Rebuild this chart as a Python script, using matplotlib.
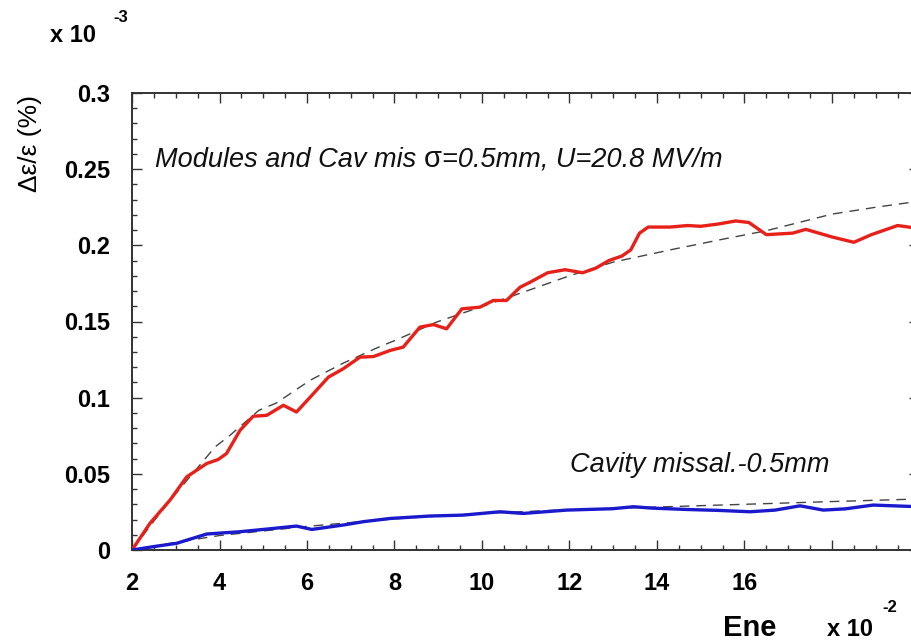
import numpy as np
import matplotlib
matplotlib.use("Agg")
import matplotlib.pyplot as plt
from matplotlib.ticker import MultipleLocator, FixedLocator, FixedFormatter

plt.rcParams["font.family"] = ["Liberation Sans", "DejaVu Sans"]

# energy (x 10^-2) and relative emittance growth (x 10^-3, %)
red_x = [2.0, 2.41, 2.87, 3.25, 3.71, 3.97, 4.16, 4.47, 4.77, 5.08, 5.46, 5.76,
         6.11, 6.49, 6.83, 7.21, 7.52, 7.90, 8.20, 8.58, 8.89, 9.19, 9.54, 9.95,
         10.26, 10.56, 10.87, 11.10, 11.5, 11.9, 12.3, 12.6, 12.9, 13.2, 13.4,
         13.6, 13.8, 14.3, 14.7, 15.0, 15.4, 15.8, 16.1, 16.5, 17.1, 17.4, 18.0,
         18.5, 18.9, 19.5, 20.0]
red_y = [0.0, 0.0175, 0.0328, 0.048, 0.0568, 0.0594, 0.0633, 0.0786, 0.0878,
         0.0884, 0.095, 0.0906, 0.1015, 0.1135, 0.119, 0.1266, 0.127, 0.131,
         0.1332, 0.1463, 0.148, 0.1452, 0.1583, 0.1594, 0.1638, 0.1638, 0.1725,
         0.1758, 0.182, 0.184, 0.182, 0.185, 0.19, 0.193, 0.197, 0.208, 0.212,
         0.212, 0.213, 0.2125, 0.214, 0.216, 0.215, 0.207, 0.208, 0.2105, 0.2055,
         0.202, 0.207, 0.213, 0.211]

red_fit_x = [2.0, 2.5, 3.0, 3.5, 3.9, 4.24, 4.9, 5.3, 6.07, 6.83, 7.67, 8.05,
             8.96, 9.73, 10.94, 12.0, 13.0, 14.4, 15.5, 16.5, 18.0, 19.0, 20.0]
red_fit_y = [0.0, 0.019, 0.037, 0.054, 0.0677, 0.0753, 0.0917, 0.0965, 0.1114,
             0.1227, 0.1336, 0.138, 0.1496, 0.1572, 0.1692, 0.180, 0.189, 0.1976,
             0.204, 0.2096, 0.2205, 0.225, 0.229]

blue_x = [2.0, 2.49, 3.02, 3.71, 4.47, 5.0, 5.76, 6.11, 6.83, 7.29, 7.9, 8.81,
          9.57, 10.41, 10.94, 11.94, 12.98, 13.46, 13.88, 14.68, 15.4, 16.13,
          16.7, 17.27, 17.8, 18.3, 18.94, 19.4, 20.0]
blue_y = [0.0, 0.0022, 0.0044, 0.0105, 0.012, 0.0135, 0.0157, 0.0135, 0.0164,
          0.0186, 0.0207, 0.0223, 0.0229, 0.0251, 0.024, 0.0262, 0.0271, 0.0284,
          0.0275, 0.0266, 0.026, 0.0251, 0.0262, 0.029, 0.0262, 0.027, 0.0295,
          0.029, 0.0284]

blue_fit_x = [2.0, 3.0, 4.0, 6.0, 8.0, 10.0, 12.0, 14.0, 16.0, 18.0, 20.0]
blue_fit_y = [0.0, 0.005, 0.0095, 0.0155, 0.0205, 0.024, 0.0265, 0.0282, 0.030,
              0.0318, 0.0335]

x_major = [2, 4, 6, 8, 10, 12, 14, 16, 18, 20]
x_labels = ["2", "4", "6", "8", "10", "12", "14", "16", "", ""]
y_major = [0, 0.05, 0.1, 0.15, 0.2, 0.25, 0.3]
y_labels = ["0", "0.05", "0.1", "0.15", "0.2", "0.25", "0.3"]

W, H = 912, 643
fig = plt.figure(figsize=(W / 100, H / 100), dpi=100)
# plot frame runs a little past the right edge of the canvas
ax = fig.add_axes([132 / W, 93 / H, 787.5 / W, 457 / H])

ax.plot(red_fit_x, red_fit_y, color="#444444", lw=1.0, ls=(0, (7, 5)), zorder=2)
ax.plot(blue_fit_x, blue_fit_y, color="#444444", lw=1.0, ls=(0, (7, 5)), zorder=2)
ax.plot(red_x, red_y, color="#e8201a", lw=2.4, zorder=3)
ax.plot(blue_x, blue_y, color="#1a1acc", lw=2.4, zorder=3)

ax.set_xlim(2, 20)
ax.set_ylim(0, 0.3)
ax.xaxis.set_major_locator(FixedLocator(x_major))
ax.xaxis.set_major_formatter(FixedFormatter(x_labels))
ax.xaxis.set_minor_locator(MultipleLocator(0.5))
ax.yaxis.set_major_locator(FixedLocator(y_major))
ax.yaxis.set_major_formatter(FixedFormatter(y_labels))
ax.yaxis.set_minor_locator(MultipleLocator(0.01))

for s in ax.spines.values():
    s.set_color("#333333"); s.set_linewidth(1.4)
ax.tick_params(which="both", direction="in", top=True, right=True,
               color="#333333", width=1.0)
ax.tick_params(which="major", length=7.5, labelsize=17, pad=16)
ax.tick_params(which="minor", length=3.8)
for lab in ax.get_xticklabels() + ax.get_yticklabels():
    lab.set_fontweight("bold")

# axis titles and exponent markers
fig.text(30 / W, 1 - 144 / H, "Δε/ε (%)", rotation=90, ha="center", va="center",
         fontsize=19)
fig.text(50 / W, 1 - 35 / H, "x 10", ha="left", va="center", fontsize=17,
         fontweight="bold")
fig.text(113 / W, 1 - 17 / H, "-3", ha="left", va="center", fontsize=12,
         fontweight="bold")
fig.text(723 / W, 1 - 628 / H, "Ene", ha="left", va="center", fontsize=21,
         fontweight="bold")
fig.text(827 / W, 1 - 630 / H, "x 10", ha="left", va="center", fontsize=17,
         fontweight="bold")
fig.text(882 / W, 1 - 608 / H, "-2", ha="left", va="center", fontsize=12,
         fontweight="bold")

# curve annotations; sigma is set upright between italic pieces
renderer = fig.canvas.get_renderer()
base_y = 1 - 167 / H
x0 = 155 / W
for piece, style, size in [("Modules and Cav mis ", "italic", 19.5),
                           ("σ", "normal", 21),
                           ("=0.5mm, U=20.8 MV/m", "italic", 19.5)]:
    t = fig.text(x0, base_y, piece, ha="left", va="baseline", fontsize=size,
                 fontstyle=style, color="#111111")
    x0 = t.get_window_extent(renderer).x1 / W

fig.text(570 / W, 1 - 472 / H, "Cavity missal.-0.5mm", ha="left", va="baseline",
         fontsize=19.5, fontstyle="italic", color="#111111")

fig.savefig("out.png", dpi=100)
